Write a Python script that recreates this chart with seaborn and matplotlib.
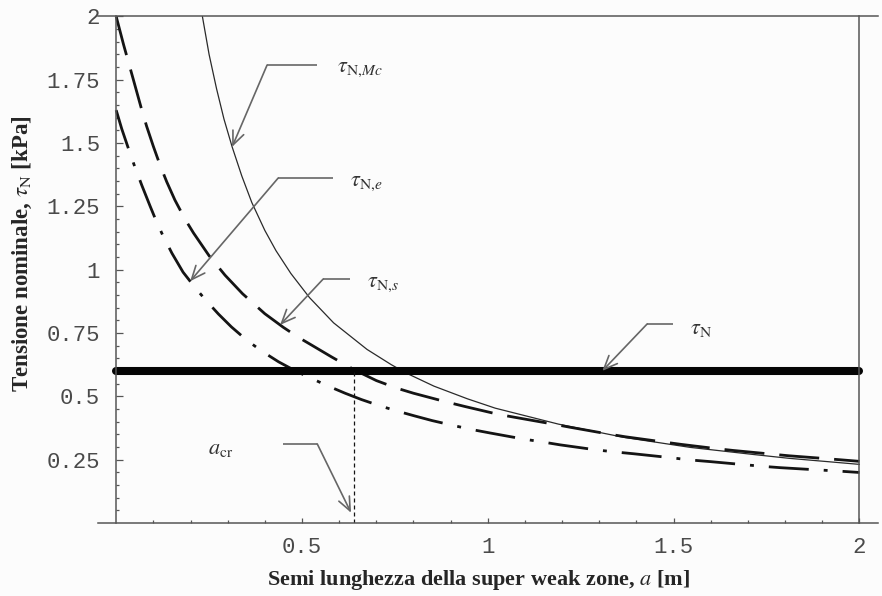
import numpy as np
import pandas as pd
import matplotlib
matplotlib.use("Agg")
import matplotlib.pyplot as plt
import seaborn as sns

# Semi-length of the super weak zone a [m] and nominal stresses [kPa]
a_mc = [0.232, 0.25, 0.27, 0.29, 0.312, 0.338, 0.365, 0.40, 0.43, 0.47, 0.52,
        0.585, 0.675, 0.74, 0.78, 0.855, 0.945, 1.02, 1.19, 1.365, 1.545, 1.715, 1.81, 2.0]
tau_mc = [2.0, 1.85, 1.715, 1.595, 1.485, 1.37, 1.265, 1.155, 1.075, 0.985, 0.89,
          0.79, 0.685, 0.625, 0.592, 0.54, 0.49, 0.453, 0.39, 0.338, 0.298, 0.27, 0.255, 0.231]

a_s = [0.0, 0.02, 0.045, 0.069, 0.082, 0.10, 0.118, 0.136, 0.158, 0.185, 0.208, 0.25,
       0.293, 0.34, 0.40, 0.45, 0.49, 0.526, 0.58, 0.64, 0.70, 0.755, 0.80, 0.89, 0.94,
       1.03, 1.08, 1.18, 1.22, 1.32, 1.37, 1.47, 1.52, 1.61, 1.66, 1.76, 1.81, 1.89, 1.95, 2.0]
tau_s = [2.0, 1.888, 1.757, 1.63, 1.566, 1.487, 1.413, 1.347, 1.275, 1.20, 1.145, 1.055,
         0.978, 0.905, 0.826, 0.772, 0.733, 0.702, 0.655, 0.605, 0.562, 0.532, 0.512, 0.477, 0.459,
         0.428, 0.415, 0.389, 0.378, 0.352, 0.34, 0.32, 0.31, 0.294, 0.286, 0.272, 0.265, 0.256, 0.249, 0.243]

a_e = [0.0, 0.015, 0.033, 0.048, 0.069, 0.091, 0.105, 0.124, 0.15, 0.18, 0.212, 0.239,
       0.275, 0.31, 0.351, 0.392, 0.437, 0.48, 0.52, 0.571, 0.616, 0.66, 0.71, 0.755,
       0.804, 0.85, 0.903, 0.952, 1.006, 1.096, 1.145, 1.195, 1.293, 1.343, 1.392, 1.495,
       1.54, 1.598, 1.688, 1.742, 1.787, 1.89, 1.939, 2.0]
tau_e = [1.63, 1.556, 1.478, 1.415, 1.333, 1.252, 1.202, 1.14, 1.065, 0.99, 0.93, 0.883,
         0.825, 0.774, 0.722, 0.678, 0.636, 0.602, 0.574, 0.54, 0.512, 0.487, 0.462, 0.442,
         0.422, 0.404, 0.386, 0.37, 0.355, 0.331, 0.32, 0.308, 0.288, 0.28, 0.273, 0.257,
         0.249, 0.242, 0.23, 0.223, 0.218, 0.209, 0.205, 0.199]

a_line = [0.0, 2.0]
tau_n = [0.6, 0.6]
a_cr = 0.64

x_ticks = [0.5, 1.0, 1.5, 2.0]
x_ticklabels = ["0.5", "1", "1.5", "2"]
y_ticks = [0.25, 0.5, 0.75, 1.0, 1.25, 1.5, 1.75, 2.0]
y_ticklabels = ["0.25", "0.5", "0.75", "1", "1.25", "1.5", "1.75", "2"]

sns.set_theme(style="white")
plt.rcParams["font.family"] = ["Liberation Serif", "DejaVu Serif"]
plt.rcParams["mathtext.fontset"] = "stix"

fig = plt.figure(figsize=(8.82, 5.96), dpi=100)
fig.patch.set_facecolor("#fcfcfc")
ax = fig.add_axes([0.1115, 0.1227, 0.8840, 0.8497])
ax.set_facecolor("#fcfcfc")

ink = "#141414"
axis_col = "#555555"
arrow_col = "#666666"

# curves
sns.lineplot(x=a_mc, y=tau_mc, ax=ax, color="#2a2a2a", lw=0.9, sort=False)
sns.lineplot(x=a_s, y=tau_s, ax=ax, color=ink, lw=2.0, sort=False,
             linestyle=(0, (14.4, 5.4)))
sns.lineplot(x=a_e, y=tau_e, ax=ax, color=ink, lw=2.0, sort=False,
             linestyle=(0, (14.4, 5.4, 1.4, 5.4)))
sns.lineplot(x=a_line, y=tau_n, ax=ax, color="#050505", lw=5.8, sort=False,
             solid_capstyle="round")

# critical half-length marker
ax.plot([a_cr, a_cr], [0, tau_n[0]], color=ink, lw=0.9,
        linestyle=(0, (3.2, 2.4)))

ax.set_xlim(-0.048, 2.050)
ax.set_ylim(0, 2.0)

# frame: axes through the origin plus lines at a = 2 and tau = 2
for side in ["top", "right", "bottom", "left"]:
    ax.spines[side].set_color(axis_col)
    ax.spines[side].set_linewidth(1.1)
ax.spines["left"].set_position(("data", 0))
ax.spines["left"].set_bounds(0, 2)
ax.spines["right"].set_position(("data", 2))
ax.spines["right"].set_bounds(0, 2)

ax.set_xticks(x_ticks)
ax.set_xticklabels(x_ticklabels)
ax.set_yticks(y_ticks)
ax.set_yticklabels(y_ticklabels)
ax.set_xticks([v / 10 for v in range(1, 20) if v % 5], minor=True)
ax.set_yticks([v / 20 for v in range(1, 40) if v % 5], minor=True)

ax.tick_params(axis="both", which="both", direction="in", color=axis_col,
               labelcolor="#4a4a4a", width=0.9)
ax.tick_params(axis="x", which="major", length=3.5, pad=10, bottom=True, top=False)
ax.tick_params(axis="x", which="minor", length=2.5, bottom=True, top=False)
ax.tick_params(axis="y", which="major", length=5, pad=11.5, left=True, right=False)
ax.tick_params(axis="y", which="minor", length=2.5, left=True, right=False)
for lab in ax.get_xticklabels() + ax.get_yticklabels():
    lab.set_fontfamily(["Liberation Mono", "DejaVu Sans Mono"])
    lab.set_fontsize(16)

ax.set_xlabel(r"Semi lunghezza della super weak zone, $a$ [m]", fontsize=16,
              fontweight="bold", color="#262626", va="center")
ax.xaxis.set_label_coords(0.4875, -0.113)
ax.set_ylabel(r"Tensione nominale, $\tau_{\mathrm{N}}$ [kPa]", fontsize=16.5,
              fontweight="bold", color="#262626", va="center")
ax.yaxis.set_label_coords(-0.097, 0.531)


def callout(label, text_xy, seg, tip, from_left=True):
    """Label with a horizontal leader segment and an arrow to the curve."""
    ax.plot(seg[0], seg[1], color=arrow_col, lw=1.2, solid_capstyle="butt")
    start = (seg[0][0], seg[1][0]) if from_left else (seg[0][1], seg[1][1])
    ax.annotate("", xy=tip, xytext=start,
                arrowprops=dict(arrowstyle="->,head_length=0.7,head_width=0.3",
                                color=arrow_col, lw=1.2, shrinkA=0, shrinkB=0,
                                mutation_scale=14))
    ax.text(text_xy[0], text_xy[1], label, fontsize=16, color="#333333",
            ha="left", va="center")


tip_mc = 0.312
callout(r"$\tau_{\mathrm{N}{,}\mathit{Mc}}$", (0.594, 1.79),
        ([0.406, 0.541], [1.808, 1.808]), (tip_mc, np.interp(tip_mc, a_mc, tau_mc)))
tip_e = 0.199
callout(r"$\tau_{\mathrm{N}{,}e}$", (0.629, 1.34),
        ([0.436, 0.584], [1.362, 1.362]), (tip_e, np.interp(tip_e, a_e, tau_e)))
tip_s = 0.441
callout(r"$\tau_{\mathrm{N}{,}s}$", (0.675, 0.94),
        ([0.557, 0.629], [0.963, 0.963]), (tip_s, np.interp(tip_s, a_s, tau_s)))
callout(r"$\tau_{\mathrm{N}}$", (1.545, 0.765),
        ([1.429, 1.499], [0.786, 0.786]), (1.308, tau_n[0]))
callout(r"$a_{\mathrm{cr}}$", (0.247, 0.29),
        ([0.449, 0.541], [0.312, 0.312]), (a_cr - 0.008, 0.04), from_left=False)

fig.savefig("out.png", dpi=100, facecolor=fig.get_facecolor())
